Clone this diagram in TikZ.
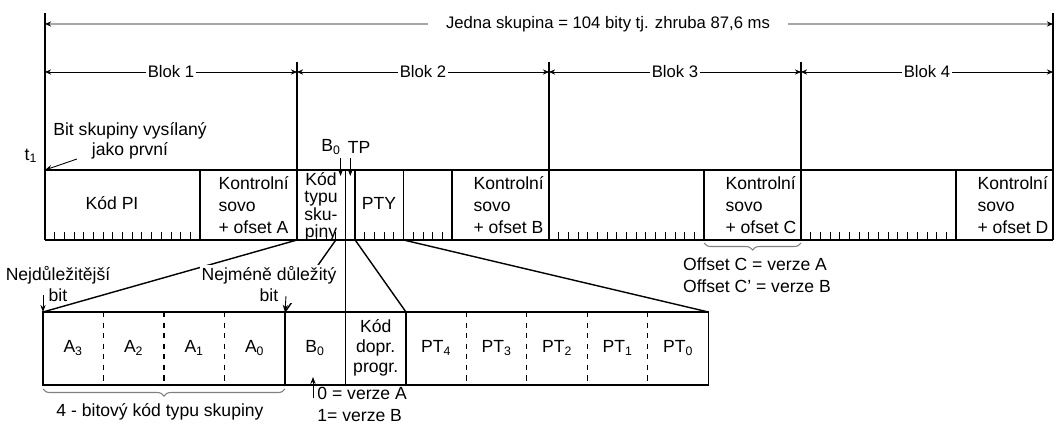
\documentclass[tikz,border=0pt]{standalone}
\usepackage{fontspec}
\setmainfont{Liberation Sans}
\usetikzlibrary{arrows.meta, calc, positioning, decorations.pathreplacing}

\newcommand{\bitw}{9.6923}  % jeden bit v horni rade
\newcommand{\cellw}{60.49}  % jedna bunka v dolni rade

\tikzset{
  grpline/.style={line width=1.3pt, gray!70},
  dimline/.style={line width=0.5pt, {Stealth[length=3.5pt,width=3pt]}-{Stealth[length=3.5pt,width=3pt]}},
  pointer/.style={line width=0.5pt, -{Stealth[length=4pt,width=3pt]}},
  tickmark/.style={line width=0.5pt},
  sepdash/.style={dashed, line width=0.6pt},
  ctrlword/.style={anchor=west, align=left, font=\fontsize{10}{12.5}\selectfont},
  notelabel/.style={align=center, font=\fontsize{10}{11.5}\selectfont, inner sep=1pt},
  bracedown/.style={decorate, decoration={brace, mirror, amplitude=4pt}, gray, line width=0.6pt},
}

\begin{document}
\begin{tikzpicture}[x=0.02cm, y=-0.02cm, >=stealth, line width=0.8pt]

  \useasboundingbox (0,0) rectangle (1061,425);

  % --- Cela skupina ---
  \node[font=\fontsize{9.5}{11}\selectfont, inner xsep=10pt] (grp) at (608,24) {Jedna skupina = 104 bity tj. zhruba 87,6 ms};
  \coordinate (g0) at (45,24);
  \coordinate (g1) at (1053,24);
  \draw[grpline, {Stealth[black,length=3.5pt,width=3pt]}-] (g0) -- (grp.west);
  \draw[grpline, -{Stealth[black,length=3.5pt,width=3pt]}] (grp.east) -- (g1);

  % --- Bloky 1 az 4 ---
  \foreach \i in {1,...,4} {
    \pgfmathsetmacro{\s}{45+252*(\i-1)}
    \pgfmathsetmacro{\e}{\s+252}
    \coordinate (bl\i) at (\s,72);
    \coordinate (br\i) at (\e,72);
    \draw[dimline] (bl\i) -- node[fill=white, inner xsep=1pt, font=\fontsize{9.5}{11}\selectfont] (blok\i) {Blok \i} (br\i);
  }

  % --- Svisle hranice ---
  \draw (45,13) -- (45,240);
  \draw (1053,13) -- (1053,240);
  \foreach \x in {297,549,801} \draw (\x,62) -- (\x,240);

  % --- Horni rada ---
  \draw (45,170) -- (1053,170);
  \draw (45,240) -- (1053,240);
  \foreach \x in {200.08,355.15,403.6,452.08,704.08,956.08} \draw (\x,170) -- (\x,240);
  \draw[line width=1pt] (345.46,170) -- (345.46,385);
  \foreach \s in {45,549,801} \foreach \k in {1,...,15}
    \draw[tickmark] ({\s+\k*\bitw},232) -- ++(0,8);
  \foreach \k in {1,2,3,4,7,8,9,10,12,13,14,15}
    \draw[tickmark] ({297+\k*\bitw},232) -- ++(0,8);

  \node (pi) at (112,203) {Kód PI};
  \node[ctrlword] (ka) at (212,205) {Kontrolní\\sovo\\+ ofset A};
  \node[align=center, font=\fontsize{10}{10}\selectfont, inner sep=0pt] (typ) at (321,207) {Kód\\typu\\sku-\\piny};
  \node (pty) at (379,203) {PTY};
  \node[ctrlword] (kb) at (467,205) {Kontrolní\\sovo\\+ ofset B};
  \node[ctrlword] (kc) at (719,205) {Kontrolní\\sovo\\+ ofset C};
  \node[ctrlword] (kd) at (971,205) {Kontrolní\\sovo\\+ ofset D};

  % --- B0 a TP ---
  \node[inner sep=1pt] (b0top) at (331,147) {B\textsubscript{0}};
  \node[inner sep=1pt] (tptop) at (359,147) {TP};
  \coordinate (b0a) at (340.6,158);
  \coordinate (b0b) at (340.6,176);
  \coordinate (tpa) at (350.3,158);
  \coordinate (tpb) at (350.3,176);
  \draw[pointer] (b0a) -- (b0b);
  \draw[pointer] (tpa) -- (tpb);

  % --- Prvni bit ---
  \node (t1) at (31,156) {t\textsubscript{1}};
  \node[notelabel] (first) at (130,141) {Bit skupiny vysílaný\\jako první};
  \coordinate (firsta) at (77,159);
  \coordinate (firstb) at (45,170);
  \draw[pointer] (firsta) -- (firstb);

  % --- Offset C ---
  \draw[bracedown] (704.08,243) -- (801,243);
  \node[align=left, font=\fontsize{10}{12.5}\selectfont] (offc) at (757,275) {Offset C = verze A\\Offset C' = verze B};

  % --- Dolni rada ---
  \draw (43,312) rectangle ({43+11*\cellw},385);
  \foreach \k in {4,6} \draw ({43+\k*\cellw},312) -- ({43+\k*\cellw},385);
  \foreach \k in {1,2,3,7,8,9,10} \draw[sepdash] ({43+\k*\cellw},312) -- ({43+\k*\cellw},385);
  \foreach \k in {0,...,11} \coordinate (lo\k) at ({43+\k*\cellw},312);

  \foreach \t [count=\k from 0] in {A\textsubscript{3}, A\textsubscript{2}, A\textsubscript{1}, A\textsubscript{0}, B\textsubscript{0}, {Kód\\dopr.\\progr.}, PT\textsubscript{4}, PT\textsubscript{3}, PT\textsubscript{2}, PT\textsubscript{1}, PT\textsubscript{0}}
    \node[align=center, font=\fontsize{10}{11.5}\selectfont] (cell\k) at ({43+(\k+0.5)*\cellw},348) {\t};

  % --- Rozvedeni bitu ---
  \coordinate (up-typ) at (297,240);
  \coordinate (up-a0) at ({297+4*\bitw},240);
  \coordinate (up-tp) at (355.15,240);
  \coordinate (up-pty) at (403.6,240);
  \draw (up-typ) -- (lo0);
  \draw (up-a0) -- (lo4);
  \draw (up-tp) -- (lo6);
  \draw (up-pty) -- (lo11);

  \node[notelabel] (msb) at (58,284) {Nejdůležitější\\bit};
  \node[notelabel, fill=white] (lsb) at (269,284) {Nejméně důležitý\\bit};
  \coordinate (msba) at (43,295);
  \coordinate (lsba) at (286,296);
  \draw[pointer] (msba) -- (lo0);
  \draw[pointer] (lsba) -- (lo4);

  % --- Popisky pod dolni radou ---
  \draw[bracedown] (43,389) -- ({43+4*\cellw},389);
  \node (grpcode) at (160,412) {4 - bitový kód typu skupiny};
  \coordinate (vera) at (313,398);
  \coordinate (verb) at (313,377);
  \draw[pointer] (vera) -- (verb);
  \node[anchor=west, align=left, font=\fontsize{10}{12.5}\selectfont, inner sep=1pt] (verze) at (315,404) {0 = verze A\\1= verze B};

\end{tikzpicture}
\end{document}
